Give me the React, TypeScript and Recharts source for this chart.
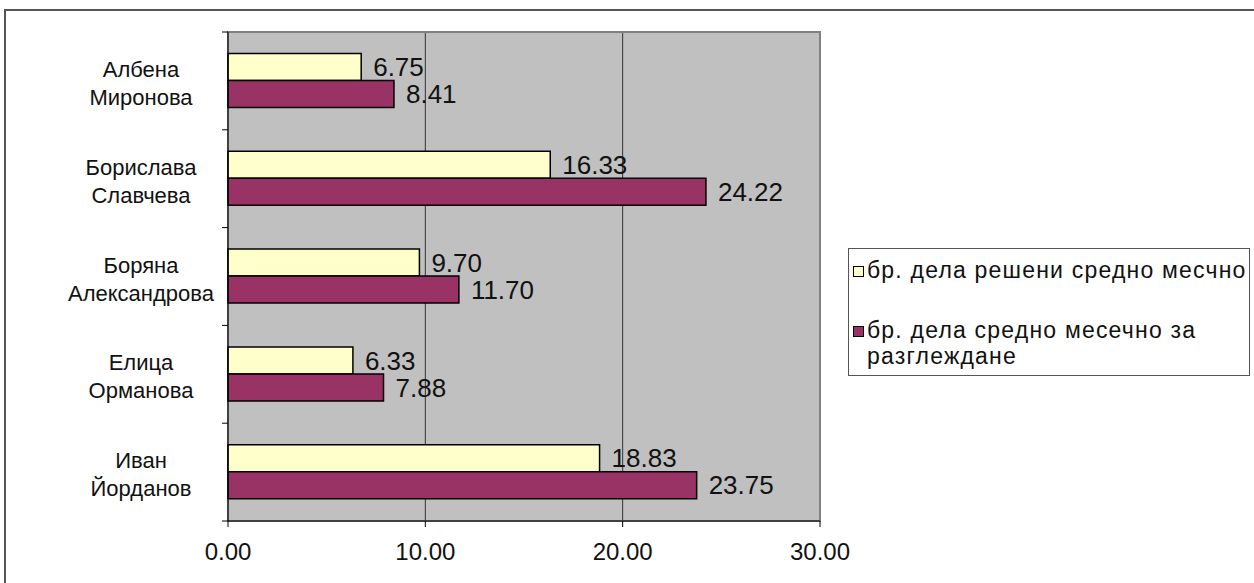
import React from 'react';
import {
  BarChart,
  Bar,
  XAxis,
  YAxis,
  CartesianGrid,
  Legend,
  LabelList,
  ReferenceArea
} from 'recharts';

const judges = [
  ['Албена', 'Миронова'],
  ['Борислава', 'Славчева'],
  ['Боряна', 'Александрова'],
  ['Елица', 'Орманова'],
  ['Иван', 'Йорданов']
];
const resolved = [6.75, 16.33, 9.7, 6.33, 18.83];
const pending = [8.41, 24.22, 11.7, 7.88, 23.75];
const xTicks = [0, 10, 20, 30];

const seriesNames = {
  resolved: 'бр. дела решени средно месчно',
  pending: 'бр. дела средно месечно за разглеждане'
};

const data = judges.map((name, i) => ({
  name: name.join(' '),
  resolved: resolved[i],
  pending: pending[i]
}));

const FONT = '"Liberation Sans", Arial, sans-serif';
const PLOT_TOP = 32;
const PLOT_BOTTOM = 521;

const CategoryTick = (props: any) => {
  const { y, payload, index } = props;
  const band = (PLOT_BOTTOM - PLOT_TOP) / judges.length;
  const lines = judges[index] || String(payload.value).split(' ');
  const last = index === judges.length - 1;
  return (
    <g>
      <line x1={222} x2={228} y1={y - band / 2} y2={y - band / 2} stroke="#000" />
      {last && <line x1={222} x2={228} y1={y + band / 2} y2={y + band / 2} stroke="#000" />}
      <text x={141} y={y} textAnchor="middle" fontSize={22} fontFamily={FONT} fill="#111">
        <tspan x={141} dy={-4}>{lines[0]}</tspan>
        <tspan x={141} dy={28}>{lines[1]}</tspan>
      </text>
    </g>
  );
};

const LegendBox = (props: any) => {
  const { payload = [] } = props;
  return (
    <div style={{ fontFamily: FONT, fontSize: 23, letterSpacing: 1.2, color: '#111', padding: '8px 0 0 4px' }}>
      {payload.map((item: any, i: number) => (
        <div key={i} style={{ display: 'flex', alignItems: 'flex-start', marginBottom: i === 0 ? 34 : 0, lineHeight: '26px' }}>
          <span
            style={{
              display: 'inline-block',
              width: 9,
              height: 9,
              marginTop: 9,
              marginRight: 3,
              background: item.color,
              border: '1px solid #000',
              flex: 'none'
            }}
          />
          <span style={{ width: 385 }}>{item.value}</span>
        </div>
      ))}
    </div>
  );
};

export default function App() {
  return (
    <div style={{ position: 'absolute', left: 0, top: 0, width: 1254, height: 583, background: '#fff', overflow: 'hidden' }}>
      <div
        style={{
          position: 'absolute',
          left: 4,
          top: 9,
          width: 1300,
          height: 700,
          border: '2px solid #555'
        }}
      />
      <div style={{ position: 'absolute', left: 0, top: 0 }}>
        <BarChart
          width={1254}
          height={583}
          data={data}
          layout="vertical"
          margin={{ top: PLOT_TOP, right: 434, bottom: 0, left: 0 }}
          barCategoryGap="22%"
          barGap={0}
        >
          <CartesianGrid horizontal={false} vertical={true} fill="#C0C0C0" fillOpacity={1} stroke="#333" />
          <ReferenceArea x1={0} x2={30} stroke="#808080" strokeWidth={2} fill="none" fillOpacity={0} />
          <XAxis
            type="number"
            domain={[0, 30]}
            ticks={xTicks}
            height={583 - PLOT_BOTTOM}
            tickFormatter={(v: number) => v.toFixed(2)}
            tick={{ fontSize: 24, fontFamily: FONT, fill: '#111' }}
            stroke="#000"
            tickMargin={16}
            interval={0}
          />
          <YAxis
            type="category"
            dataKey="name"
            width={228}
            tickLine={false}
            stroke="#000"
            tick={<CategoryTick />}
            interval={0}
          />
          <Legend
            layout="vertical"
            align="center"
            verticalAlign="middle"
            content={<LegendBox />}
            wrapperStyle={{
              position: 'absolute',
              left: 848,
              top: 248,
              width: 402,
              height: 128,
              border: '1px solid #555',
              boxSizing: 'border-box',
              background: '#fff'
            }}
          />
          <Bar dataKey="resolved" name={seriesNames.resolved} fill="#FFFFCC" stroke="#000" strokeWidth={1.5} isAnimationActive={false}>
            <LabelList
              dataKey="resolved"
              position="right"
              offset={12}
              formatter={(v: any) => Number(v).toFixed(2)}
              style={{ fontSize: 26, fontFamily: FONT, fill: '#111' }}
            />
          </Bar>
          <Bar dataKey="pending" name={seriesNames.pending} fill="#993366" stroke="#000" strokeWidth={1.5} isAnimationActive={false}>
            <LabelList
              dataKey="pending"
              position="right"
              offset={12}
              formatter={(v: any) => Number(v).toFixed(2)}
              style={{ fontSize: 26, fontFamily: FONT, fill: '#111' }}
            />
          </Bar>
        </BarChart>
      </div>
    </div>
  );
}
